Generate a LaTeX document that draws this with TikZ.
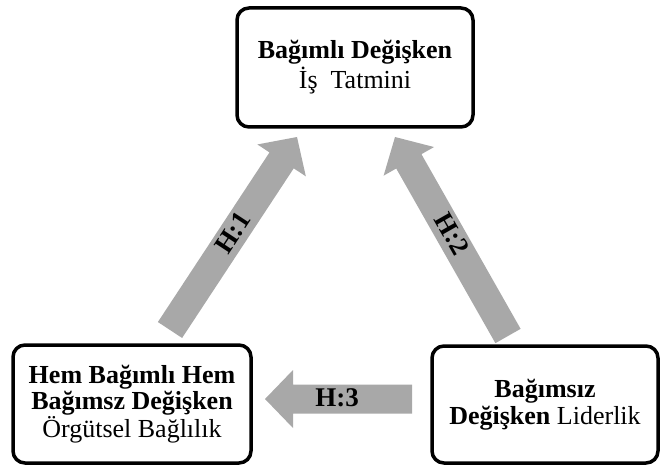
\documentclass[tikz,border=0pt]{standalone}
\usepackage{fontspec}
\setmainfont{Liberation Serif}
\usetikzlibrary{calc}
\definecolor{arrowgray}{RGB}{168,168,168}
\tikzset{
  box/.style={draw=black, line width=3.5pt, rounded corners=12pt, align=center, inner sep=0pt,
    font=\fontsize{26}{25.5}\selectfont},
  hlabel/.style={font=\bfseries\fontsize{27}{27}\selectfont, inner sep=0pt},
}
\newcommand\blockarrow[2]{%
  \coordinate (#1b) at ($(#2)!28pt!(#1)$);
  \fill[arrowgray] ($(#1)!14.5pt!90:(#2)$) -- ($(#1b)!14.5pt!90:(#2)$) -- ($(#1b)!29pt!90:(#2)$)
    -- (#2) -- ($(#1b)!29pt!-90:(#2)$) -- ($(#1b)!14.5pt!-90:(#2)$) -- ($(#1)!14.5pt!-90:(#2)$) -- cycle;}
\begin{document}
\begin{tikzpicture}[x=1pt,y=-1pt]
\useasboundingbox (0,0) rectangle (660,465);
\node[box, minimum width=236pt, minimum height=119pt] (dep) at (355,67.5)
  {\textbf{Bağımlı Değişken}\\[2pt] İş\ \ Tatmini};
\node[box, minimum width=238pt, minimum height=118pt] (med) at (132,404)
  {\textbf{Hem Bağımlı Hem}\\ \textbf{Bağımsz Değişken}\\ Örgütsel Bağlılık};
\node[box, minimum width=226pt, minimum height=117pt] (ind) at (545,404.5)
  {\textbf{Bağımsız}\\[2pt] \textbf{Değişken} Liderlik};
\coordinate (t1) at (170,330); \coordinate (p1) at (297,137);
\coordinate (t2) at (508,336); \coordinate (p2) at (395,137);
\coordinate (t3) at (412,399); \coordinate (p3) at (265,399);
\blockarrow{t1}{p1}
\blockarrow{t2}{p2}
\blockarrow{t3}{p3}
\node[hlabel, rotate=56.7] (l1) at (233,233) {H:1};
\node[hlabel, rotate=-60.4] (l2) at (452,234) {H:2};
\node[hlabel] (l3) at (337,398) {H:3};
\end{tikzpicture}
\end{document}
